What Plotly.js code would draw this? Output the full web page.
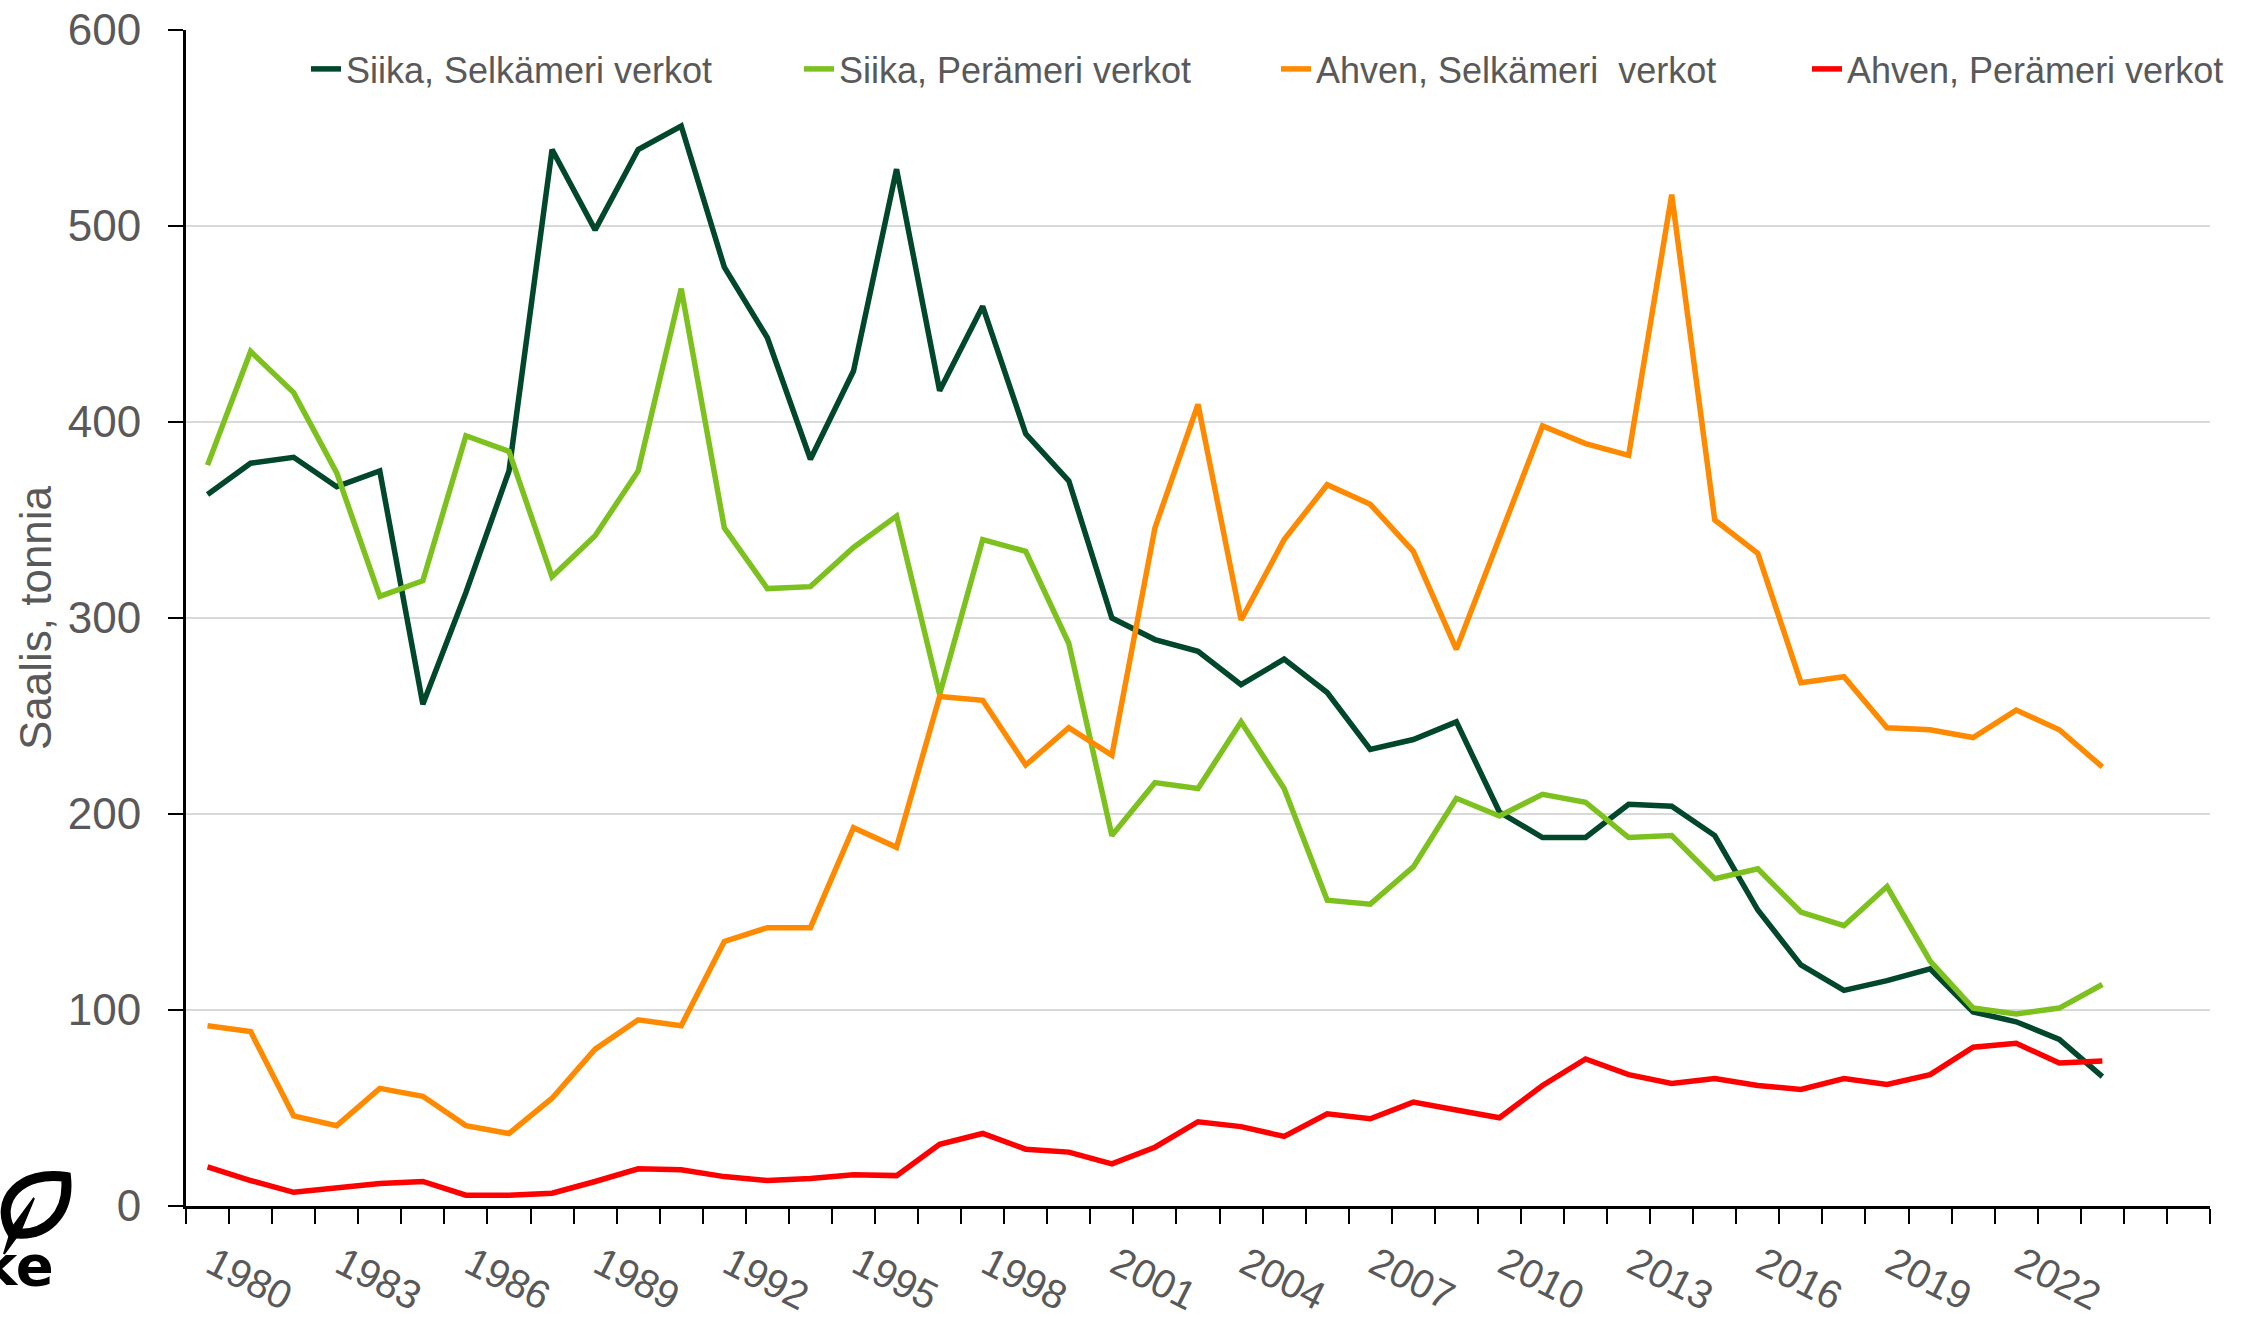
<!DOCTYPE html>
<html>
<head>
<meta charset="utf-8">
<script src="https://cdn.plot.ly/plotly-3.0.1.min.js"></script>
<style>
html,body{margin:0;padding:0;background:#fff;}
#chart{width:2264px;height:1320px;}
</style>
</head>
<body>
<div id="chart"></div>
<script>
// Years (category axis 1979–2025, data 1979–2023)
const years = [1979,1980,1981,1982,1983,1984,1985,1986,1987,1988,1989,1990,1991,1992,1993,1994,1995,1996,1997,1998,1999,2000,2001,2002,2003,2004,2005,2006,2007,2008,2009,2010,2011,2012,2013,2014,2015,2016,2017,2018,2019,2020,2021,2022,2023];
const labelYears = [1980,1983,1986,1989,1992,1995,1998,2001,2004,2007,2010,2013,2016,2019,2022];

const siikaSelkameri = [363,379,382,367,375,256,313,375,539,498, 539,551,479,443,381,426,529,416,459,394, 370,300,289,283,266,279,262,233,238,247, 201,188,188,205,204,189,151,123,110,115, 121,99,94,85,66];
const siikaPerameri  = [378,436,415,374,311,319,393,385,321,342, 375,468,346,315,316,336,352,261,340,334, 287,189,216,213,247,213,156,154,173,208, 199,210,206,188,189,167,172,150,143,163, 125,101,98,101,113];
const ahvenSelkameri = [92,89,46,41,60,56,41,37,55,80, 95,92,135,142,142,193,183,260,258,225, 244,230,346,409,299,340,368,358,334,284, 341,398,389,383,516,350,333,267,270,244, 243,239,253,243,224];
const ahvenPerameri  = [20,13,7,9.5,11.5,12.5,5.5,5.5,6.5,12.5, 19,18.5,15,13,14,16,15.5,31.5,37,29, 27.5,21.5,30,43,40.5,35.5,47,44.5,53,49, 45,61.5,75,67,62.5,65,61.5,59.5,65,62, 67,81,83,73,74];

const seriesNames = ['Siika, Selkämeri verkot','Siika, Perämeri verkot','Ahven, Selkämeri  verkot','Ahven, Perämeri verkot'];
const seriesColors = ['#00472B','#7DC11F','#FF8A00','#FF0000'];
const seriesData = [siikaSelkameri, siikaPerameri, ahvenSelkameri, ahvenPerameri];
const legendIds = ['legend','legend2','legend3','legend4'];

const textColor = '#595959';
const font = 'Liberation Sans, Arial, sans-serif';

const traces = seriesData.map((d,i)=>({
  type:'scatter', mode:'lines', x:years, y:d, name:seriesNames[i],
  line:{color:seriesColors[i], width:5.5},
  legend: legendIds[i],
  hoverinfo:'skip'
}));

// Plot geometry in pixels
const L=186, R=2210, T=30, B=1206;
const W=2264, H=1320;
const pxX = p => (p-L)/(R-L);
const pxY = p => (B-p)/(B-T);

function legendAt(px){
  return {orientation:'h', x:pxX(px), xanchor:'left', y:pxY(69), yanchor:'middle',
    font:{family:font, size:36, color:textColor}, bgcolor:'rgba(0,0,0,0)', itemwidth:30};
}

const layout = {
  width:W, height:H,
  paper_bgcolor:'#fff', plot_bgcolor:'#fff',
  margin:{l:L, r:W-R, t:T, b:H-B, pad:0},
  font:{family:font, color:textColor},
  showlegend:true,
  legend: legendAt(306),
  legend2: legendAt(799),
  legend3: legendAt(1276),
  legend4: legendAt(1807),
  xaxis:{
    type:'linear', range:[1978.5, 2025.5], fixedrange:true,
    tickmode:'array', tickvals:labelYears, ticktext:labelYears.map(String),
    ticks:'', tickangle:27,
    tickfont:{family:font, size:40, color:textColor},
    ticklabelstandoff:16, ticklabelshift:-38,
    minor:{tick0:1978.5, dtick:1, ticks:'outside', ticklen:15, tickwidth:2, tickcolor:'#000', showgrid:false},
    showgrid:false, zeroline:false,
    showline:true, linecolor:'#000', linewidth:3
  },
  yaxis:{
    range:[0,600], fixedrange:true, tickmode:'linear', tick0:0, dtick:100,
    ticks:'outside', ticklen:15, tickwidth:2, tickcolor:'#000',
    tickfont:{family:font, size:44, color:textColor},
    ticklabelstandoff:18,
    showgrid:true, gridcolor:'#D9D9D9', gridwidth:2,
    zeroline:false, showline:true, linecolor:'#000', linewidth:3,
    title:{text:'Saalis, tonnia', font:{family:font, size:44, color:textColor}, standoff:3}
  },
  annotations:[
    {xref:'paper', yref:'paper', x:pxX(56), y:pxY(1300), xanchor:'right', yanchor:'bottom',
     text:'<b>luke</b>', showarrow:false, font:{family:'DejaVu Sans, sans-serif', size:56, color:'#000'}}
  ],
  shapes:[
    // leaf outline
    {type:'path', xref:'paper', yref:'paper',
     path:`M ${pxX(12)} ${pxY(1233)} C ${pxX(-8)} ${pxY(1200)} ${pxX(22)} ${pxY(1170)} ${pxX(66)} ${pxY(1177)} C ${pxX(70)} ${pxY(1214)} ${pxX(46)} ${pxY(1238)} ${pxX(12)} ${pxY(1233)} Z`,
     fillcolor:'#fff', line:{color:'#000', width:10}},
    // leaf vein / stem
    {type:'path', xref:'paper', yref:'paper',
     path:`M ${pxX(34)} ${pxY(1198)} L ${pxX(20)} ${pxY(1232)} L ${pxX(4)} ${pxY(1254)} L ${pxX(12)} ${pxY(1228)} Z`,
     fillcolor:'#000', line:{color:'#000', width:2}}
  ]
};

Plotly.newPlot('chart', traces, layout, {displayModeBar:false, staticPlot:true});
</script>
</body>
</html>
